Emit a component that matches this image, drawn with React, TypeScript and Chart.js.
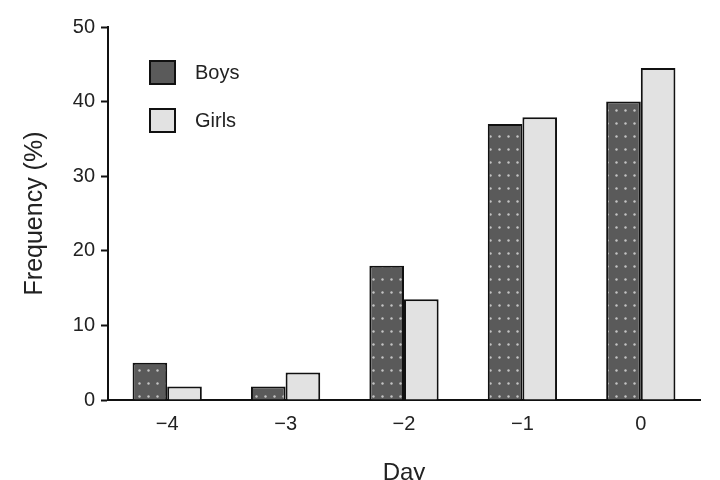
import React, { useEffect, useRef } from "react";
import { Chart, registerables } from "chart.js";

Chart.register(...registerables);

const categories = ["\u22124", "\u22123", "\u22122", "\u22121", "0"];
const boys = [5.0, 1.8, 18.0, 37.0, 40.0];
const girls = [1.8, 3.7, 13.5, 37.9, 44.5];
const seriesNames = ["Boys", "Girls"];
const yTicks = [0, 10, 20, 30, 40, 50];

const FONT = "'Liberation Sans', Arial, Helvetica, sans-serif";

function makeDots(): CanvasPattern | string {
  const c = document.createElement("canvas");
  c.width = 9;
  c.height = 13;
  const g = c.getContext("2d");
  if (!g) return "#5a5a5a";
  g.fillStyle = "#5a5a5a";
  g.fillRect(0, 0, 9, 13);
  g.fillStyle = "#c4c4c4";
  g.beginPath();
  g.arc(4.5, 6.5, 1.2, 0, Math.PI * 2);
  g.fill();
  const p = g.createPattern(c, "repeat");
  return p || "#5a5a5a";
}

const legendPlugin = {
  id: "insideLegend",
  afterDraw(chart: any) {
    const ctx = chart.ctx;
    const area = chart.chartArea;
    ctx.save();
    chart.data.datasets.forEach((ds: any, i: number) => {
      const x = area.left + 42;
      const y = area.top + 34 + i * 48;
      ctx.fillStyle = i === 0 ? "#5a5a5a" : "#e2e2e2";
      ctx.fillRect(x, y, 25, 23);
      ctx.lineWidth = 2;
      ctx.strokeStyle = "#111";
      ctx.strokeRect(x, y, 25, 23);
      ctx.fillStyle = "#222";
      ctx.font = `20px ${FONT}`;
      ctx.textBaseline = "middle";
      ctx.textAlign = "left";
      ctx.fillText(ds.label, x + 45, y + 12);
    });
    ctx.restore();
  },
};

export default function App() {
  const ref = useRef<HTMLCanvasElement | null>(null);
  useEffect(() => {
    if (!ref.current) return;
    const dots = makeDots();
    const chart = new Chart(ref.current, {
      type: "bar",
      data: {
        labels: categories,
        datasets: [
          {
            label: seriesNames[0],
            data: boys,
            backgroundColor: dots as any,
            borderColor: "#111",
            borderWidth: 2,
            barPercentage: 1,
            categoryPercentage: 0.585,
          },
          {
            label: seriesNames[1],
            data: girls,
            backgroundColor: "#e2e2e2",
            borderColor: "#111",
            borderWidth: 2,
            barPercentage: 1,
            categoryPercentage: 0.585,
          },
        ],
      },
      options: {
        animation: false,
        responsive: false,
        devicePixelRatio: 1,
        layout: { padding: { top: 27, right: 20, left: 0, bottom: 0 } },
        plugins: {
          legend: { display: false },
          tooltip: { enabled: false },
        },
        scales: {
          x: {
            grid: { display: true, drawOnChartArea: false, drawTicks: false },
            border: { display: true, color: "#111", width: 2 },
            ticks: {
              color: "#222",
              font: { family: FONT, size: 20 },
              padding: 12,
            },
            title: {
              display: true,
              text: "Day",
              color: "#222",
              font: { family: FONT, size: 24 },
              padding: { top: 28, bottom: -8 },
            },
            afterFit(scale: any) {
              scale.height = 80;
            },
          },
          y: {
            min: 0,
            max: 50,
            afterBuildTicks(scale: any) {
              scale.ticks = yTicks.map((v) => ({ value: v }));
            },
            grid: {
              display: true,
              drawOnChartArea: false,
              drawTicks: true,
              tickLength: 7,
              tickColor: "#111",
              tickWidth: 2,
            },
            border: { display: true, color: "#111", width: 2 },
            ticks: {
              color: "#222",
              font: { family: FONT, size: 20 },
              padding: 6,
            },
            title: {
              display: true,
              text: "Frequency (%)",
              color: "#222",
              font: { family: FONT, size: 25 },
              padding: { top: 20, bottom: 0 },
            },
            afterFit(scale: any) {
              scale.width = 108;
            },
          },
        },
      },
      plugins: [legendPlugin],
    });
    return () => chart.destroy();
  }, []);
  return (
    <div style={{ position: "fixed", left: 0, top: 0, width: 720, height: 480, background: "#fff" }}>
      <canvas ref={ref} width={720} height={480} style={{ width: 720, height: 480 }} />
    </div>
  );
}
